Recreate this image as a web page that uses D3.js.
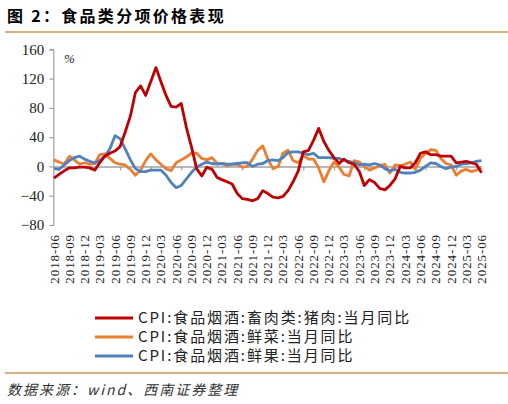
<!DOCTYPE html>
<html><head><meta charset="utf-8">
<script src="https://cdn.jsdelivr.net/npm/d3@7"></script>
<style>
html,body{margin:0;padding:0;background:#fff;}
svg{display:block;}
</style></head>
<body><svg id="c" width="508" height="404"></svg>
<script>
// ---- data ----
const startMonth = "2018-06";
const endMonth = "2025-06";
const tickLabels = ["2018-06","2018-09","2018-12","2019-03","2019-06","2019-09","2019-12","2020-03","2020-06","2020-09","2020-12","2021-03","2021-06","2021-09","2021-12","2022-03","2022-06","2022-09","2022-12","2023-03","2023-06","2023-09","2023-12","2024-03","2024-06","2024-09","2024-12","2025-03","2025-06"];
const yTicks = [-80,-40,0,40,80,120,160];
const seriesNames = ["CPI:食品烟酒:畜肉类:猪肉:当月同比","CPI:食品烟酒:鲜菜:当月同比","CPI:食品烟酒:鲜果:当月同比"];
const pork = [-16,-11,-6,-2,-2,-1,-1,-2,-5,5,14,18,21,27,47,69,101,110,97,116,135,116,97,82,81,86,53,26,-3,-13,-1,-4,-15,-18,-21,-24,-37,-44,-45,-47,-44,-33,-37,-42,-43,-41,-33,-21,-6,20,22,36,52,34,22,12,4,10,5,3,-7,-26,-18,-22,-30,-32,-26,-17,0,-2,-2,5,18,20,16,16,14,14,14,5,6,7,5,3,-8.5];
const vegetables = [9,6,3,14,9,3,5,3,4,16,17,11,5,3,2,-4,-12,-5,8,17,9,3,-3,-6,5,9,13,18,18,11,9,12,4,4,1,3,3,-1,0,10,22,28,10,-3,0,18,22,8,5,15,10,10,-2,-21,-6,6,-1,-11,-13,8,6,0,-5,-2,1,3,-9,2,1,3,6,-4,11,18,23,22,11,4,2,-12,-6,-4,-7,-5,-1];
const fruit = [-3,-4,2,8,12,14,10,7,5,8,14,24,42,38,24,9,-3,-7,-7,-5,-5,-5,-12,-22,-29,-26,-17,-8,-1,3,6,4,3,4,3,3,4,5,5,0,3,4,8,9,8,12,19,20,20,18,16,18,12,12,12,11,11,8,7,5,2,3,2,4,2,-3,-6,-4,-8,-9,-9,-8,-5,0,5,4,0,-3,-1,0,3,4,5,7,8];
const colors = ["#C00000","#ED7D31","#4F81BD"];

// ---- chart ----
const parse = d3.timeParse("%Y-%m");
const months = d3.timeMonth.range(parse(startMonth), d3.timeMonth.offset(parse(endMonth), 1));
const svg = d3.select("#c");
const x = d3.scaleTime().domain([months[0], months[months.length-1]]).range([54, 481.5]);
const y = d3.scaleLinear().domain([-80,160]).range([225, 49.3]);
const axisColor = "#A0A0A0";
const serif = "'Liberation Serif','Times New Roman',serif";
const cjk = "'Noto Sans CJK SC','Noto Sans',sans-serif";

// title
svg.append("text").attr("x",7).attr("y",22)
  .attr("font-family",cjk).attr("font-weight","bold").attr("font-size",16)
  .attr("letter-spacing",2.3)
  .attr("fill","#000").text("图 2：食品类分项价格表现");
svg.append("line").attr("x1",5).attr("x2",508).attr("y1",32).attr("y2",32)
  .attr("stroke","#C9995A").attr("stroke-width",1.5);

// y axis
const yAxis = svg.append("g").attr("transform","translate(53.3,0)")
  .call(d3.axisLeft(y).tickValues(yTicks).tickSize(4).tickPadding(5));
yAxis.select(".domain").attr("stroke",axisColor).attr("stroke-width",1.2);
yAxis.selectAll(".tick line").attr("stroke",axisColor).attr("stroke-width",1.2);
yAxis.selectAll(".tick text").attr("font-family",serif).attr("font-size",15).attr("fill","#222");

svg.append("text").attr("x",64).attr("y",63).attr("font-family",serif)
  .attr("font-style","italic").attr("font-size",13).attr("fill","#222").text("%");

// x axis at zero
const xTickDates = d3.timeMonth.every(6).range(months[1], d3.timeMonth.offset(months[months.length-1],1));
const xAxis = svg.append("g").attr("transform",`translate(0,${y(0)})`)
  .call(d3.axisBottom(x).tickValues(xTickDates).tickSize(4).tickFormat(""));
xAxis.select(".domain").attr("stroke",axisColor).attr("stroke-width",1.5)
  .attr("d",`M53.3,0.5H481.5`);
xAxis.selectAll(".tick line").attr("stroke",axisColor).attr("stroke-width",1.2);

// x labels at bottom
svg.append("g").selectAll("text").data(tickLabels).join("text")
  .attr("transform",d=>`translate(${x(parse(d))},234) rotate(-90)`)
  .attr("dy","0.35em").attr("text-anchor","end")
  .attr("font-family",serif).attr("font-size",13).attr("letter-spacing",0.9)
  .attr("fill","#222").text(d=>d);

// lines
const seriesData = [pork, vegetables, fruit];
const line = d3.line().x((d,i)=>x(months[i])).y(d=>y(d));
[1,2,0].forEach(k=>{
  svg.append("path").datum(seriesData[k]).attr("d",line)
    .attr("fill","none").attr("stroke",colors[k]).attr("stroke-width",2.8)
    .attr("stroke-linejoin","round");
});

// legend
const lg = svg.append("g");
seriesNames.forEach((n,i)=>{
  const ly = 318 + i*19;
  lg.append("line").attr("x1",95).attr("x2",133).attr("y1",ly).attr("y2",ly)
    .attr("stroke",colors[i]).attr("stroke-width",2.8);
  lg.append("text").attr("x",138).attr("y",ly).attr("dy","0.36em")
    .attr("font-family",cjk).attr("font-size",15).attr("letter-spacing",1.9)
    .attr("fill","#222").text(n);
});

// bottom rule + source
svg.append("line").attr("x1",5).attr("x2",508).attr("y1",373).attr("y2",373)
  .attr("stroke","#C9995A").attr("stroke-width",1.5);
svg.append("text").attr("x",7).attr("y",395).attr("font-family",cjk)
  .attr("font-style","italic").attr("font-size",14).attr("letter-spacing",2)
  .attr("fill","#333")
  .text("数据来源：wind、西南证券整理");
</script></body></html>
